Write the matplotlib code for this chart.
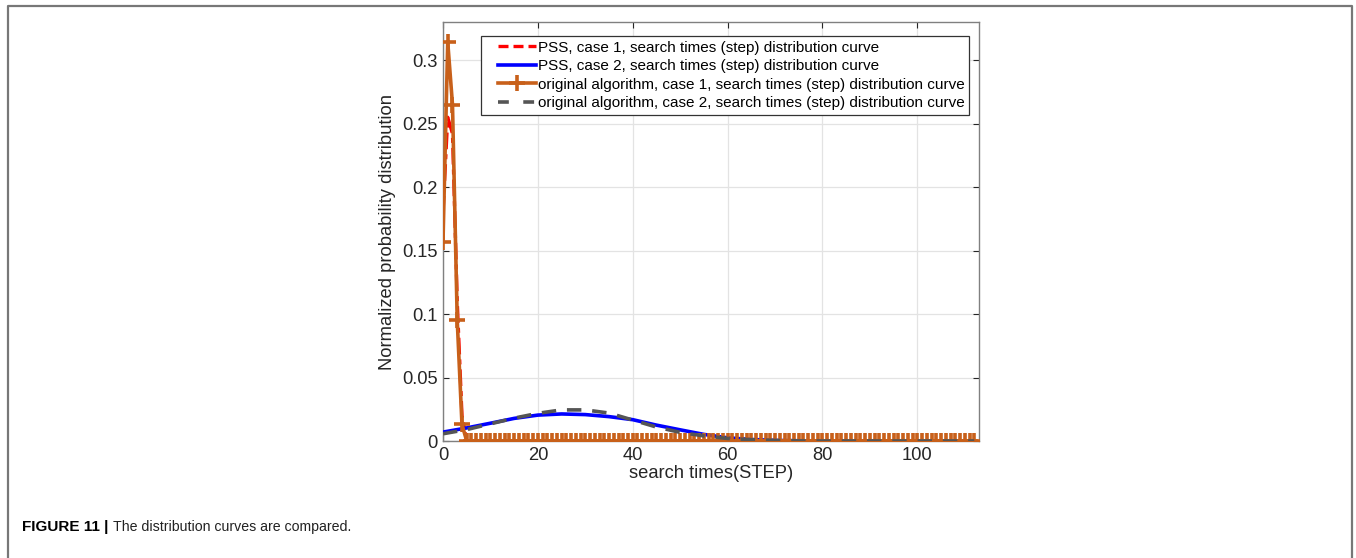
import matplotlib
matplotlib.use("Agg")
import matplotlib.pyplot as plt
from matplotlib.lines import Line2D
from matplotlib.legend_handler import HandlerLine2D

plt.rcParams['font.family'] = ['Liberation Sans', 'DejaVu Sans']

# ---- data ----
steps_orig1 = list(range(0, 113))
orig_case1 = [0.157, 0.314, 0.265, 0.095, 0.013] + [0.0] * 108

steps_pss1 = list(range(0, 113))
pss_case1 = [0.18, 0.255, 0.242, 0.11, 0.02] + [0.0] * 108

steps_smooth = [0, 5, 10, 15, 20, 25, 30, 35, 40, 45, 50, 55, 60, 65, 70, 75,
                80, 85, 90, 95, 100, 105, 110, 112]
pss_case2 = [0.0070, 0.0103, 0.0140, 0.0178, 0.0204, 0.0213, 0.0208, 0.0192,
             0.0168, 0.0125, 0.0088, 0.0052, 0.0025, 0.0012, 0.0005, 0.0002,
             0.0, 0.0, 0.0, 0.0, 0.0, 0.0, 0.0, 0.0]
orig_case2 = [0.0057, 0.0090, 0.0135, 0.0180, 0.0218, 0.0245, 0.0245, 0.0220,
              0.0165, 0.0110, 0.0068, 0.0040, 0.0020, 0.0010, 0.0004, 0.0001,
              0.0, 0.0, 0.0, 0.0, 0.0, 0.0, 0.0, 0.0]

labels = ["PSS, case 1, search times (step) distribution curve",
          "PSS, case 2, search times (step) distribution curve",
          "original algorithm, case 1, search times (step) distribution curve",
          "original algorithm, case 2, search times (step) distribution curve"]

xticks = [0, 20, 40, 60, 80, 100]
yticks = [0, 0.05, 0.1, 0.15, 0.2, 0.25, 0.3]
ytick_labels = ["0", "0.05", "0.1", "0.15", "0.2", "0.25", "0.3"]

# ---- figure ----
W, H = 1356, 558
fig = plt.figure(figsize=(W / 100, H / 100), dpi=100)
ax = fig.add_axes([443 / W, 1 - 441 / H, (979 - 443) / W, (441 - 22) / H])

c_red = '#FF0000'
c_blue = '#0000FF'
c_orange = '#C8601A'
c_gray = '#555555'

ax.plot(steps_pss1, pss_case1, color=c_red, lw=2.4, ls=(0, (5, 1.5, 1.5, 1.5)), zorder=3)
ax.plot(steps_smooth, pss_case2, color=c_blue, lw=2.6, zorder=4)
ax.plot(steps_orig1, orig_case1, color=c_orange, lw=2.6, marker='+',
        markersize=11, mew=2.6, zorder=5)
ax.plot(steps_smooth, orig_case2, color=c_gray, lw=2.6, ls=(0, (4, 3)), zorder=6)

ax.set_xlim(0, 113)
ax.set_ylim(0, 0.33)
ax.set_xticks(xticks)
ax.set_yticks(yticks)
ax.set_yticklabels(ytick_labels)
ax.tick_params(direction='in', length=4, width=0.8, colors='#262626',
               labelsize=13.2, top=True, right=True)
ax.tick_params(axis='y', pad=4)
ax.tick_params(axis='x', pad=4)
ax.grid(True, color='#E3E3E3', lw=0.9)
ax.set_axisbelow(True)
for s in ax.spines.values():
    s.set_color('#808080')
    s.set_linewidth(1.0)

ax.set_xlabel("search times(STEP)", fontsize=13.2, color='#262626', labelpad=1)
ax.set_ylabel("Normalized probability distribution", fontsize=13.2,
              color='#262626', labelpad=4)


class ShiftHandler(HandlerLine2D):
    def create_artists(self, legend, orig_handle, xdescent, ydescent,
                       width, height, fontsize, trans):
        shift = 9.0
        return super().create_artists(legend, orig_handle, xdescent - shift,
                                      ydescent, width - shift, height,
                                      fontsize, trans)


handles = [
    Line2D([], [], color=c_red, lw=2.4, ls=(0, (3, 1.5))),
    Line2D([], [], color=c_blue, lw=2.6),
    Line2D([], [], color=c_orange, lw=2.6, marker='+', markersize=11, mew=2.6),
    Line2D([], [], color=c_gray, lw=2.6, ls=(0, (3, 4))),
]
leg = ax.legend(handles, labels, loc='upper right',
                bbox_to_anchor=((969 - 443) / 536, (441 - 36) / 419),
                fontsize=11, handlelength=3.3, handletextpad=0.1,
                labelspacing=0.3, borderpad=0.3, borderaxespad=0,
                fancybox=False, framealpha=1, edgecolor='#333333',
                handler_map={Line2D: ShiftHandler()})
leg.get_frame().set_linewidth(0.9)
leg.set_zorder(10)

# outer frame (open at bottom)
fx0, fx1, fy = 8 / W, 1352 / W, 1 - 6 / H
fig.add_artist(Line2D([fx0, fx0, fx1, fx1], [0, fy, fy, 0],
                      transform=fig.transFigure, color='#777777', lw=1.6))

t1 = fig.text(22 / W, 1 - 527 / H, "FIGURE 11 |", fontsize=11, fontweight='bold',
              va='center', ha='left')
fig.canvas.draw()
bb = t1.get_window_extent(renderer=fig.canvas.get_renderer())
fig.text((bb.x1 + 5) / W, 1 - 527 / H, "The distribution curves are compared.",
         fontsize=10.2, va='center', ha='left', color='#222222')

fig.savefig("out.png", dpi=100)
